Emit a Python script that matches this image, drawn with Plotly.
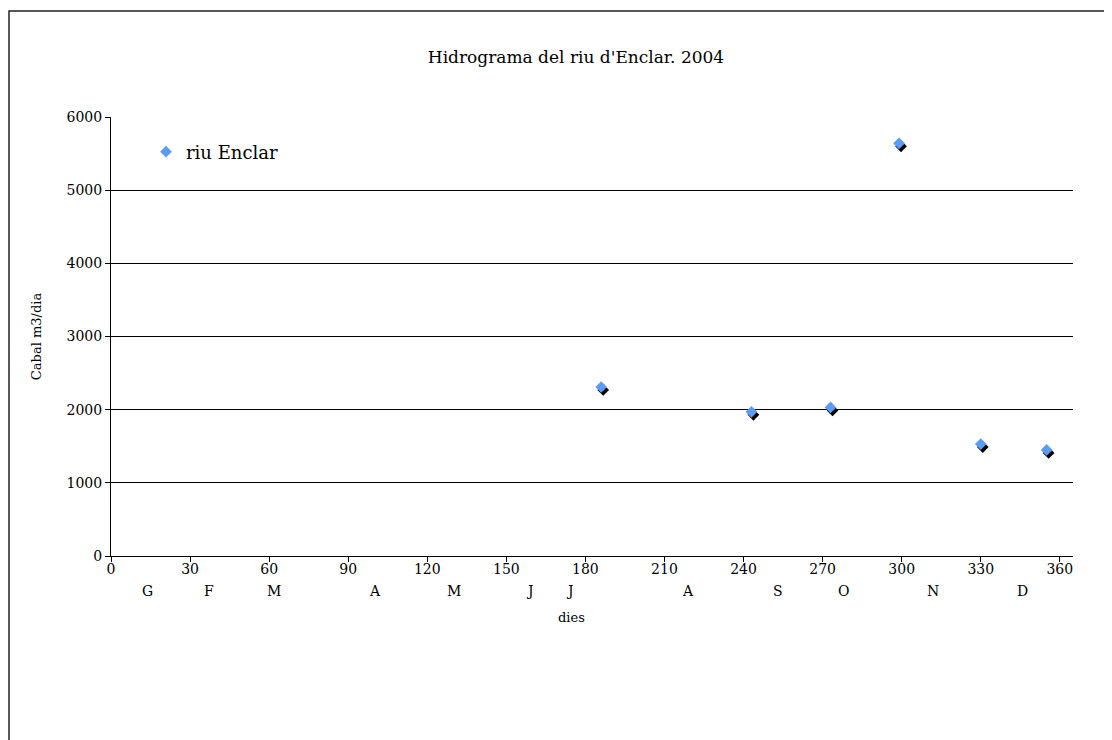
import plotly.graph_objects as go

# Mesures del riu Enclar (dia de l'any, cabal m3/dia)
dies = [186, 243, 273, 299, 330, 355]
cabal = [2310, 1970, 2030, 5640, 1530, 1450]

# Etiquetes dels mesos sota l'eix
mesos = ['G', 'F', 'M', 'A', 'M', 'J', 'J', 'A', 'S', 'O', 'N', 'D']
mesos_dia = [14, 37, 62, 100, 130, 159, 174, 219, 253, 278, 312, 346]

FONT = 'DejaVu Serif'
W, H = 1112, 740
OFF = 7  # la pagina te un marge de cos
ML, MR, MT, MB = 110 - OFF, 38 + OFF, 116 - OFF, 182 + OFF
PW = W - ML - MR
PH = H - MT - MB
dx = 2 / PW
dy = 3 / PH


def py(p):
    # pixel vertical de la pantalla -> coordenada paper
    return (H - MB - (p - OFF)) / PH


def px(p):
    return (p - OFF - ML) / PW


fig = go.Figure()

# ombra negra dels punts (subgrafic desplaçat uns pixels)
fig.add_trace(go.Scatter(
    x=dies, y=cabal, mode='markers', xaxis='x2', yaxis='y2',
    marker=dict(symbol='diamond', size=9, color='black'),
    showlegend=False, hoverinfo='skip'
))

fig.add_trace(go.Scatter(
    x=dies, y=cabal, mode='markers', name='riu Enclar', xaxis='x3', yaxis='y3',
    marker=dict(symbol='diamond', size=9, color='#5b9cf5')
))

for m, d in zip(mesos, mesos_dia):
    fig.add_annotation(x=d, xref='x', y=py(590), yref='paper', yanchor='middle',
                       text=m, showarrow=False,
                       font=dict(family=FONT, size=14, color='black'))

fig.add_annotation(x=px(570), xref='paper', y=py(616), yref='paper', yanchor='middle',
                   text='dies', showarrow=False, font=dict(family=FONT, size=13, color='black'))

# marc exterior
fig.add_shape(type='rect', xref='paper', yref='paper',
              x0=px(8), x1=px(1120), y0=py(760), y1=py(10),
              line=dict(color='#222', width=1.5))

fig.update_layout(
    width=W, height=H,
    margin=dict(l=ML, r=MR, t=MT, b=MB),
    paper_bgcolor='white', plot_bgcolor='rgba(0,0,0,0)',
    font=dict(family=FONT, color='black'),
    title=dict(text="Hidrograma del riu d'Enclar. 2004", x=(575 - OFF) / W,
               xanchor='center', y=1 - (56 - OFF) / H, yanchor='middle',
               font=dict(family=FONT, size=17, color='black')),
    xaxis=dict(range=[0, 365], domain=[0, 1 - dx], tickmode='array',
               tickvals=list(range(0, 361, 30)), ticks='outside', ticklen=5,
               tickcolor='black', showline=True, linecolor='black', linewidth=1,
               showgrid=False, zeroline=False, tickfont=dict(size=14),
               ticklabelstandoff=-5),
    yaxis=dict(range=[0, 6000], domain=[dy, 1], dtick=1000, ticks='outside', ticklen=5,
               tickcolor='black', showline=True, linecolor='black', linewidth=1,
               showgrid=True, gridcolor='black', gridwidth=1, zeroline=False,
               tickfont=dict(size=14),
               title=dict(text='Cabal m3/dia', font=dict(size=13), standoff=22)),
    xaxis2=dict(range=[0, 365], domain=[dx, 1], anchor='y2', visible=False),
    yaxis2=dict(range=[0, 6000], domain=[0, 1 - dy], anchor='x2', visible=False),
    xaxis3=dict(range=[0, 365], domain=[0, 1 - dx], anchor='y3', visible=False),
    yaxis3=dict(range=[0, 6000], domain=[dy, 1], anchor='x3', visible=False),
    showlegend=True,
    legend=dict(x=px(145), y=py(151), xanchor='left', yanchor='middle',
                bgcolor='rgba(0,0,0,0)', font=dict(family=FONT, size=18, color='black'),
                itemwidth=30)
)

fig.write_html("out.html")
